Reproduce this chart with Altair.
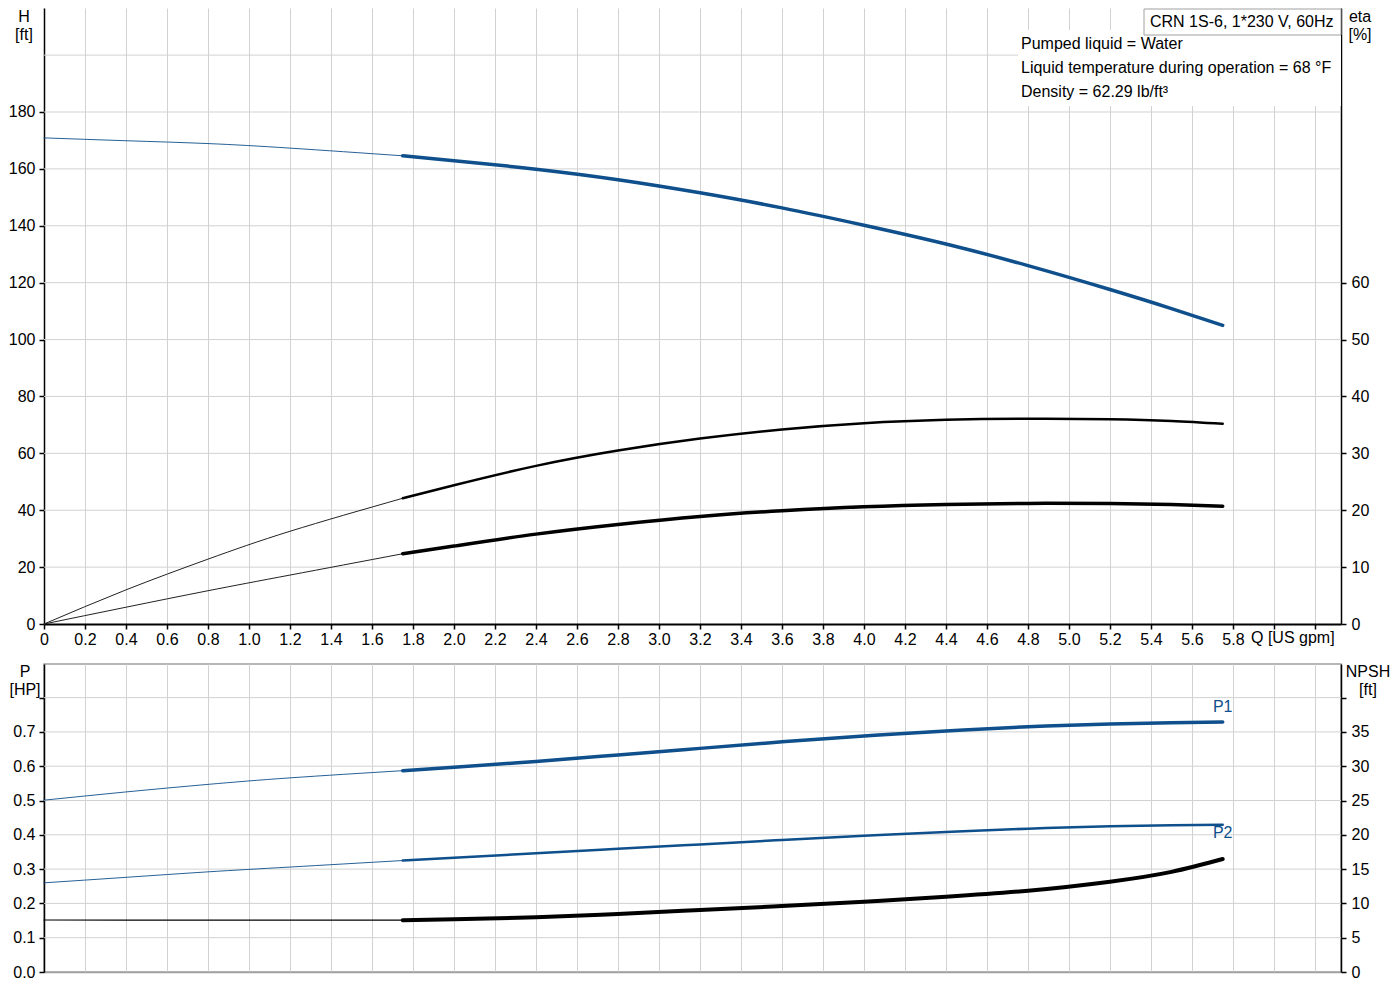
import altair as alt
import pandas as pd

# ---------------- data ----------------
Q_THIN = [0.0, 0.4, 0.8, 1.2, 1.75]
Q_THICK = [1.75, 2.0, 2.4, 2.8, 3.2, 3.6, 4.0, 4.4, 4.8, 5.2, 5.5, 5.75]

H_THIN = [170.9, 169.9, 168.9, 167.3, 164.6]
H_THICK = [164.6, 162.9, 159.9, 156.2, 151.6, 146.3, 140.2, 133.6, 126.0, 117.6, 110.9, 105.0]

ETA1_THIN = [0.0, 6.0, 11.4, 16.3, 22.1]
ETA1_THICK = [22.1, 24.4, 27.8, 30.5, 32.6, 34.2, 35.3, 35.9, 36.1, 36.0, 35.7, 35.2]

ETA2_THIN = [0.0, 2.95, 5.85, 8.6, 12.35]
ETA2_THICK = [12.35, 13.7, 15.8, 17.5, 18.9, 19.9, 20.6, 21.0, 21.2, 21.2, 21.0, 20.7]

P1_THIN = [0.501, 0.525, 0.547, 0.566, 0.587]
P1_THICK = [0.587, 0.597, 0.614, 0.633, 0.652, 0.671, 0.688, 0.703, 0.715, 0.723, 0.727, 0.729]

P2_THIN = [0.260, 0.276, 0.292, 0.306, 0.325]
P2_THICK = [0.325, 0.333, 0.346, 0.359, 0.372, 0.385, 0.397, 0.408, 0.418, 0.425, 0.428, 0.429]

NPSH_THIN = [7.58, 7.57, 7.56, 7.56, 7.55]
NPSH_THICK = [7.55, 7.68, 7.97, 8.45, 9.04, 9.62, 10.25, 10.98, 11.85, 13.17, 14.6, 16.47]

X_TICKS = [0.0, 0.2, 0.4, 0.6, 0.8, 1.0, 1.2, 1.4, 1.6, 1.8, 2.0, 2.2, 2.4, 2.6, 2.8, 3.0,
           3.2, 3.4, 3.6, 3.8, 4.0, 4.2, 4.4, 4.6, 4.8, 5.0, 5.2, 5.4, 5.6, 5.8, 6.0, 6.2]
H_TICKS = [0, 20, 40, 60, 80, 100, 120, 140, 160, 180]
H_GRID = [20, 40, 60, 80, 100, 120, 140, 160, 180, 200]
ETA_TICKS = [0, 10, 20, 30, 40, 50, 60]
P_TICKS = [0.0, 0.1, 0.2, 0.3, 0.4, 0.5, 0.6, 0.7, 0.8]
P_GRID = [0.1, 0.2, 0.3, 0.4, 0.5, 0.6, 0.7, 0.8]
NPSH_TICKS = [0, 5, 10, 15, 20, 25, 30, 35, 40]

TITLE_TEXT = "CRN 1S-6, 1*230 V, 60Hz"
INFO_LINES = ["Pumped liquid = Water",
              "Liquid temperature during operation = 68 °F",
              "Density = 62.29 lb/ft³"]

# ---------------- style ----------------
FONT = "Liberation Sans"
FS = 16
BLUE = "#0e4f8c"
GRID = "#d2d2d2"
W = 1297
H_TOP = 616
H_BOT = 308
XMAX = 6.327
H_MAX = 216.56
ETA_MAX = H_MAX / 2
P_MAX = 0.898
NPSH_MAX = P_MAX * 50
INTERP = "natural"


def xenc(top):
    if top:
        axis = alt.Axis(values=X_TICKS, grid=True, gridColor=GRID, gridWidth=1,
                        labelExpr="datum.value > 5.9 ? '' : (datum.value == 0 ? '0' : format(datum.value, '.1f'))",
                        tickColor="black", tickSize=5, tickWidth=1.5,
                        domainColor="black", domainWidth=2,
                        labelPadding=2, labelFontSize=FS, labelFont=FONT, labelColor="black",
                        labelFlush=False, labelOverlap=False, title=None)
    else:
        axis = alt.Axis(values=X_TICKS, grid=True, gridColor=GRID, gridWidth=1,
                        labels=False, ticks=False, domainColor="#a0a0a0", domainWidth=1.5,
                        title=None)
    return alt.X("Q:Q", scale=alt.Scale(domain=[0, XMAX], nice=False, zero=False), axis=axis)


def yenc(vmax, ticks, orient, label_expr):
    axis = alt.Axis(values=ticks, orient=orient, grid=False,
                    tickColor="black", tickSize=5, tickWidth=1.5,
                    domainColor="black", domainWidth=1.5,
                    labelPadding=5 if orient == "right" else 4,
                    labelFontSize=FS, labelFont=FONT, labelColor="black",
                    labelFlush=False, labelOverlap=False, labelExpr=label_expr, title=None)
    return alt.Y("v:Q", scale=alt.Scale(domain=[0, vmax], nice=False, zero=True), axis=axis)


def curve(q, vals, color, width, top, y, opacity=1.0):
    df = pd.DataFrame({"Q": q, "v": vals})
    return alt.Chart(df).mark_line(color=color, strokeWidth=width, interpolate=INTERP,
                                   strokeCap="round", opacity=opacity).encode(x=xenc(top), y=y)


def hgrid(vals, y):
    return alt.Chart(pd.DataFrame({"v": vals})).mark_rule(color=GRID, strokeWidth=1).encode(y=y)


def ptext(txt, px, py, align="center", color="black", size=FS):
    return alt.Chart(pd.DataFrame({"t": [txt]})).mark_text(
        align=align, baseline="middle", font=FONT, fontSize=size, color=color
    ).encode(x=alt.value(px), y=alt.value(py), text="t:N")


def prect(x1, x2, y1, y2, stroke=None):
    kw = dict(fill="white")
    if stroke:
        kw.update(stroke=stroke, strokeWidth=1)
    return alt.Chart(pd.DataFrame({"a": [0]})).mark_rect(**kw).encode(
        x=alt.value(x1), x2=alt.value(x2), y=alt.value(y1), y2=alt.value(y2))


# ---------------- top panel ----------------
yH = yenc(H_MAX, H_TICKS, "left", "format(datum.value, 'd')")
yEta = yenc(ETA_MAX, ETA_TICKS, "right", "format(datum.value, 'd')")

top_left = alt.layer(
    hgrid(H_GRID, yH),
    prect(974, W, 22, 98),
    prect(1100, W, 1, 27, stroke="#a0a0a0"),
    curve(Q_THIN, H_THIN, BLUE, 1, True, yH, 0.9),
    curve(Q_THICK, H_THICK, BLUE, 3.5, True, yH),
    ptext(TITLE_TEXT, 1106, 14, align="left"),
    ptext(INFO_LINES[0], 977, 36, align="left"),
    ptext(INFO_LINES[1], 977, 60, align="left"),
    ptext(INFO_LINES[2], 977, 84, align="left"),
    ptext("H", -20, 9),
    ptext("[ft]", -20, 27),
    ptext("eta", 1316, 9),
    ptext("[%]", 1316, 27),
    ptext("Q [US gpm]", 1207, H_TOP + 14, align="left"),
)

top_right = alt.layer(
    curve(Q_THIN, ETA1_THIN, "#222222", 1, True, yEta),
    curve(Q_THICK, ETA1_THICK, "black", 2.5, True, yEta),
    curve(Q_THIN, ETA2_THIN, "#222222", 1, True, yEta),
    curve(Q_THICK, ETA2_THICK, "black", 3.5, True, yEta),
)

top = alt.layer(top_left, top_right).resolve_scale(y="independent").properties(
    width=W, height=H_TOP)

# ---------------- bottom panel ----------------
yP = yenc(P_MAX, P_TICKS, "left", "datum.value > 0.75 ? '' : format(datum.value, '.1f')")
yN = yenc(NPSH_MAX, NPSH_TICKS, "right", "datum.value > 37 ? '' : format(datum.value, 'd')")


def curve_label(txt, q, v, dy):
    df = pd.DataFrame({"Q": [q], "v": [v], "t": [txt]})
    return alt.Chart(df).mark_text(dy=dy, font=FONT, fontSize=FS, color=BLUE).encode(
        x=xenc(False), y=yP, text="t:N")


bot_left = alt.layer(
    hgrid(P_GRID, yP),
    curve(Q_THIN, P1_THIN, BLUE, 1, False, yP, 0.9),
    curve(Q_THICK, P1_THICK, BLUE, 3.5, False, yP),
    curve(Q_THIN, P2_THIN, BLUE, 1, False, yP, 0.9),
    curve(Q_THICK, P2_THICK, BLUE, 2.5, False, yP),
    curve_label("P1", Q_THICK[-1], P1_THICK[-1], -15),
    curve_label("P2", Q_THICK[-1], P2_THICK[-1], 8),
    ptext("P", -19, 8),
    ptext("[HP]", -19, 26),
    ptext("NPSH", 1324, 8),
    ptext("[ft]", 1324, 26),
)

bot_right = alt.layer(
    curve(Q_THIN, NPSH_THIN, "black", 1.2, False, yN),
    curve(Q_THICK, NPSH_THICK, "black", 4, False, yN),
)

bottom = alt.layer(bot_left, bot_right).resolve_scale(y="independent").properties(
    width=W, height=H_BOT,
    view=alt.ViewBackground(stroke="#a0a0a0", strokeOpacity=1, strokeWidth=1.5))

chart = alt.vconcat(top, bottom, spacing=40, bounds="flush").properties(
    padding={"left": 0, "top": 0, "right": 0, "bottom": 0},
    background="white",
).configure_view(strokeOpacity=0)

chart.save("out.html", embed_options={"renderer": "svg", "actions": False})
